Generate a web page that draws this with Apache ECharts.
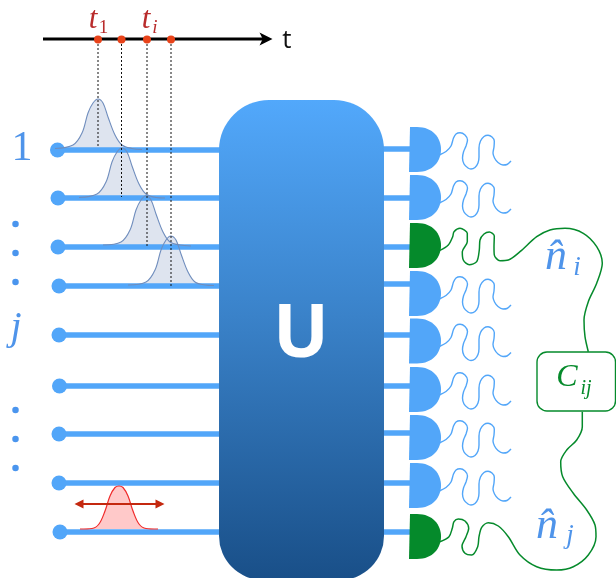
<!DOCTYPE html>
<html><head><meta charset="utf-8">
<style>html,body{margin:0;padding:0;background:#fff}#c{width:616px;height:578px}</style>
<script src="https://cdn.jsdelivr.net/npm/echarts@6/dist/echarts.min.js"></script>
</head><body><div id="c"></div>
<script>
// ---- data ----
const channelRows = [150, 198, 247, 286, 335, 386, 434, 483, 532];
const channelStartX = [57.5, 58, 58, 59, 59, 59.5, 59, 59, 60];
const detectorRows = [149.5, 197.5, 245.5, 293.5, 341, 389.5, 437.5, 485.5, 536.5];
const stubRows = [149, 198, 247, 284, 335, 386, 433, 483, 532];
const greenDetectors = [2, 8];
const timeMarks = [98, 121.5, 147, 171];
const dropEnds = [147, 197, 246, 286];
const leftDotsY = [224, 253, 282, 410, 439, 468];
const pulse1 = [[55,148.5],[73,145],[82,133],[88,113],[93,103],[98,99],[103,103],[108,117],[115,135],[122,145],[132,148.5],[142,149.5]];
const pulse2 = [[79,197.5],[97,194],[106,182],[112,162],[117,152],[121.7,148],[127,152],[132,166],[139,184],[146,194],[156,197.5],[165,198]];
const pulse3 = [[103,245],[121,242],[130,230],[136,210],[141,200],[146,195.7],[151,200],[156,214],[163,232],[170,242],[180,245],[191,246]];
const pulse4 = [[128,285],[146,282],[155,270],[161,250],[166,240],[170.7,236],[176,240],[181,254],[188,272],[195,282],[205,285],[214,285.5]];
const redPulse = [[80,529],[92,528.5],[99,524],[105,511],[110,496],[115,487.5],[119,486],[123,487.5],[128,496],[133,511],[139,524],[146,528.5],[158,529]];
const wiggleShape = [[439.3,155],[446,151.5],[451,146],[453.5,138],[456,134],[460,132.7],[465,135],[467.5,140],[466,146],[463.5,152],[462.5,158],[464,164],[468,168],[471,169],[475,167.5],[478,163],[479,157],[479,148],[480.5,141],[484,136.5],[488,135.3],[492,137],[494.3,141],[494,147],[493,153],[494.5,158],[498,162.5],[503,165],[507,164.5],[511,161]];
const greenUpper = [[439.3,250.7],[448.3,245],[452.7,236.7],[454,231.7],[460,228.3],[467.3,233.3],[467.3,241.7],[462.3,251.7],[463.3,260],[469.3,264.7],[476.7,261.7],[479.3,250],[480,240],[484,234],[489.3,232],[494.3,236],[494,246.7],[494.3,255],[500,260.7],[508.3,260],[520,251.7],[536.7,236.7],[550,230],[565,228.3],[583.3,233.3],[596.7,246.7],[602.3,263.3],[596.7,283.3],[588.3,301.7],[584,320],[585,336.7],[588.3,351.7]];
const greenLower = [[582.3,411.7],[582.3,426.7],[576.7,440],[566.7,450],[560.7,461.7],[562.7,476.7],[573.3,493.3],[586.7,510],[595,525],[596,536.7],[588.3,555],[573.3,566.7],[556.7,570],[536.7,566.7],[520,555],[508.3,536.7],[498.3,526],[488.3,522.7],[481.7,527.3],[479,536.7],[477.7,546.7],[471.7,555],[465,553.3],[462,546],[466,536.7],[468.7,528.3],[465,521],[458.3,519],[454,521.7],[452.3,528.3],[449,536.7],[440,541.7]];
const unitaryBox = [219, 100, 384, 580];
const correlatorBox = [537, 352, 615.5, 411];
const timeAxisLine = [[43,39],[264,39]];
const timeArrowHead = [266, 39];
const redArrow = [[78,504],[161,504]];

const BLUE = '#52a6f9', GREEN = '#058a2b', LABEL = '#4f94ea', RED = '#b92c2c';
const series = [];

function line(data, color, width, extra) {
  series.push(Object.assign({type:'line', data, showSymbol:false, silent:true, animation:false,
    lineStyle:{color, width}, itemStyle:{color}}, extra || {}));
}
function dots(data, size, color, extra) {
  series.push(Object.assign({type:'scatter', data, symbolSize:size, silent:true, animation:false,
    itemStyle:{color, opacity:1}}, extra || {}));
}
function text(x, y, str, font) {
  series.push({type:'scatter', data:[[x,y]], symbolSize:1, silent:true, animation:false, z:20,
    itemStyle:{color:'rgba(0,0,0,0)', opacity:1},
    label:Object.assign({show:true, opacity:1, position:'inside', formatter:str, align:'center', verticalAlign:'middle'}, font)});
}

// channels
channelRows.forEach((y,i)=> line([[channelStartX[i],y],[225,y]], BLUE, 5.5));
dots(channelRows.map((y,i)=>[channelStartX[i],y]), 15, BLUE);
stubRows.forEach(y=> line([[380,y],[412,y]], BLUE, 5.5));

// pulses
[pulse1,pulse2,pulse3,pulse4].forEach(p=>{
  const base = p[0][1];
  line(p, '#6f8dbd', 1.1, {smooth:0.35, z:3, areaStyle:{color:'#d3dbea', opacity:0.75, origin:base}});
});
line(redPulse, '#f02a2a', 1.2, {smooth:0.35, z:3, areaStyle:{color:'#ffc9c9', opacity:1, origin:529}});
line(redArrow, '#c4280f', 2, {z:4});
dots([{value:[79,504], symbolRotate:90},{value:[160,504], symbolRotate:-90}], 9, '#c4280f', {z:4, symbol:'triangle'});

// dotted drop lines
timeMarks.forEach((x,i)=> line([[x,40],[x,dropEnds[i]]], '#111', 1, {z:5, lineStyle:{color:'#111',width:1,type:[2,2]}}));

// time axis
line(timeAxisLine, '#000', 3, {z:6});
dots([timeArrowHead], 13, '#000', {z:6, symbol:'path://M0 0 L20 10 L0 20 L5 10 Z'});
dots(timeMarks.map(x=>[x,39.5]), 8, '#e8431a', {z:7});

// U box
series.push({type:'custom', silent:true, animation:false, z:8, coordinateSystem:'cartesian2d',
  data:[unitaryBox],
  renderItem:(p,api)=>{
    const a=api.coord([api.value(0),api.value(1)]), b=api.coord([api.value(2),api.value(3)]);
    return {type:'rect', shape:{x:a[0],y:a[1],width:b[0]-a[0],height:b[1]-a[1],r:[50,50,44,44]},
      style:{fill:new echarts.graphic.LinearGradient(0,0,0,1,[{offset:0,color:'#52a8fb'},{offset:0.45,color:'#3a82c9'},{offset:1,color:'#194f88'}])}};
  }});

// detectors
series.push({type:'custom', silent:true, animation:false, z:9, coordinateSystem:'cartesian2d',
  data: detectorRows.map((y,i)=>[409,y,greenDetectors.includes(i)?1:0]),
  renderItem:(p,api)=>{
    const c=api.coord([api.value(0),api.value(1)]);
    return {type:'path', shape:{pathData:'M1 0 L8 0 C24 0 32 11 32 22.5 C32 34 24 45 8 45 L0 45 Z', x:c[0],y:c[1]-22.5,width:32,height:45,layout:'cover'},
      style:{fill:api.value(2)?GREEN:BLUE}};
  }});

// wiggles
detectorRows.forEach((y,i)=>{
  if (greenDetectors.includes(i)) return;
  line(wiggleShape.map(q=>[q[0], q[1]+y-149.5]), BLUE, 1.4, {smooth:0.3, z:7});
});
line(greenUpper, GREEN, 1.5, {smooth:0.3, z:7});
line(greenLower, GREEN, 1.5, {smooth:0.3, z:7});

// correlator box
series.push({type:'custom', silent:true, animation:false, z:10, coordinateSystem:'cartesian2d',
  data:[correlatorBox],
  renderItem:(p,api)=>{
    const a=api.coord([api.value(0),api.value(1)]), b=api.coord([api.value(2),api.value(3)]);
    return {type:'rect', shape:{x:a[0],y:a[1],width:b[0]-a[0],height:b[1]-a[1],r:10},
      style:{fill:'#fff',stroke:GREEN,lineWidth:1.4}};
  }});

// left ellipsis dots
dots(leftDotsY.map(y=>[15.5,y]), 6.5, '#4a95ee');

// text
const MATH = 'Liberation Serif';
text(22, 149, '1', {fontFamily:MATH, fontSize:42, color:LABEL});
text(16, 328, 'j', {fontFamily:MATH, fontStyle:'italic', fontSize:40, color:LABEL});
text(93, 20, 't', {fontFamily:MATH, fontStyle:'italic', fontSize:31, color:RED});
text(103.5, 28, '1', {fontFamily:MATH, fontSize:19, color:RED});
text(146, 20, 't', {fontFamily:MATH, fontStyle:'italic', fontSize:31, color:RED});
text(155, 28, 'i', {fontFamily:MATH, fontStyle:'italic', fontSize:19, color:RED});
text(287, 41, 't', {fontFamily:'Open Sans', fontSize:26, color:'#111'});
text(301, 336, 'U', {fontFamily:'Open Sans', fontWeight:'bold', fontSize:74, color:'#fff'});
text(556, 257, 'n\u0302', {fontFamily:MATH, fontStyle:'italic', fontSize:44, color:LABEL});
text(577, 268, 'i', {fontFamily:MATH, fontStyle:'italic', fontSize:27, color:LABEL});
text(547, 526, 'n\u0302', {fontFamily:MATH, fontStyle:'italic', fontSize:44, color:LABEL});
text(570, 536, 'j', {fontFamily:MATH, fontStyle:'italic', fontSize:27, color:LABEL});
text(567, 378, 'C', {fontFamily:MATH, fontStyle:'italic', fontSize:32, color:GREEN});
text(586, 389, 'ij', {fontFamily:MATH, fontStyle:'italic', fontSize:20, color:GREEN});

const chart = echarts.init(document.getElementById('c'), null, {renderer:'canvas'});
chart.setOption({
  animation:false,
  backgroundColor:'#fff',
  grid:{left:0,right:0,top:0,bottom:0},
  xAxis:{type:'value',min:0,max:616,show:false},
  yAxis:{type:'value',min:0,max:578,inverse:true,show:false},
  series
});
</script></body></html>
